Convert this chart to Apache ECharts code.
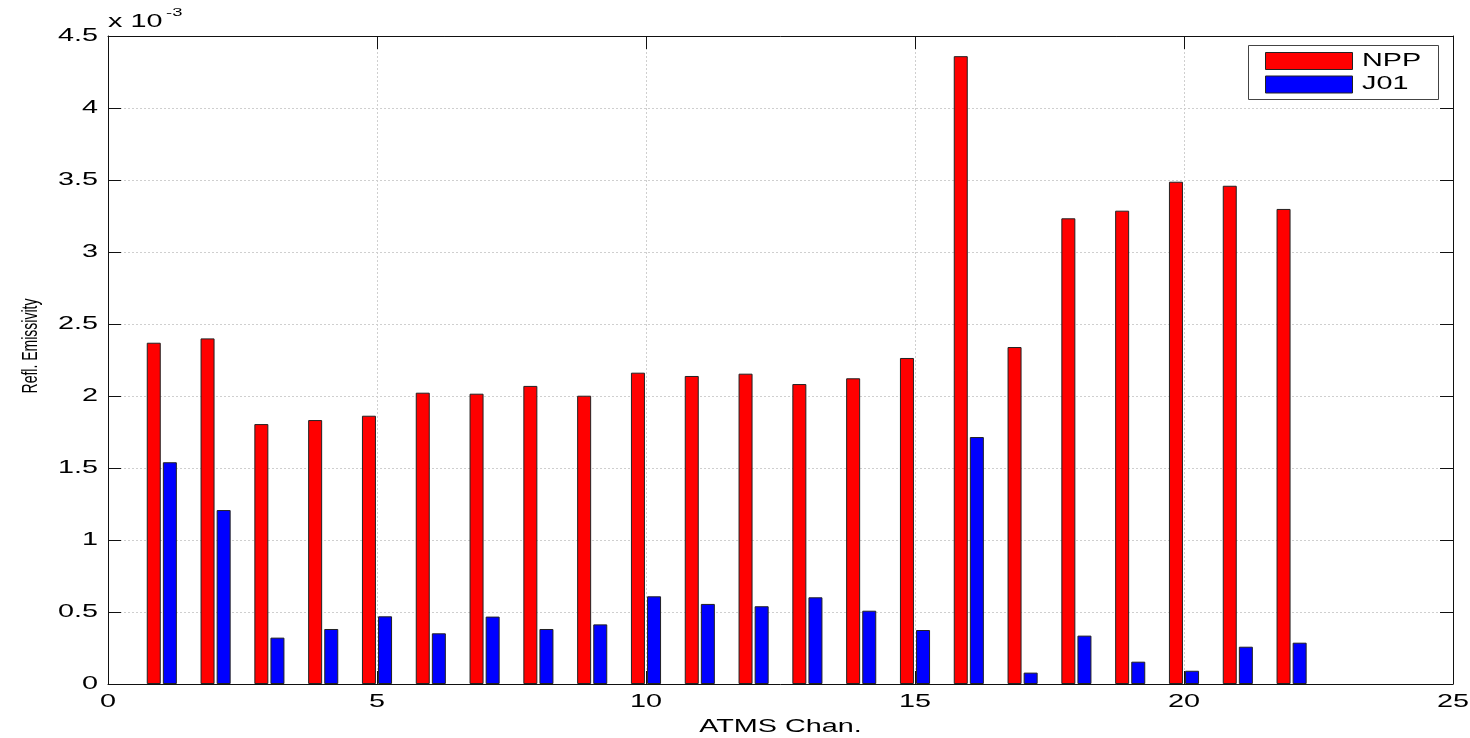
<!DOCTYPE html>
<html>
<head>
<meta charset="utf-8">
<script src="https://cdn.jsdelivr.net/npm/echarts@6/dist/echarts.min.js"></script>
<style>
html,body{margin:0;padding:0;background:#fff;}
#chart{width:1470px;height:738px;}
</style>
</head>
<body>
<div id="chart"></div>
<script>
// values in units of 1e-3
const channels = [1,2,3,4,5,6,7,8,9,10,11,12,13,14,15,16,17,18,19,20,21,22];
const nppValues = [2.37,2.40,1.805,1.833,1.863,2.023,2.016,2.07,2.002,2.162,2.139,2.155,2.083,2.123,2.264,4.36,2.34,3.234,3.287,3.488,3.46,3.299];
const j01Values = [1.54,1.208,0.322,0.382,0.47,0.352,0.468,0.382,0.414,0.609,0.556,0.54,0.602,0.509,0.375,1.715,0.079,0.336,0.155,0.092,0.259,0.287];
const seriesNames = ['NPP','J01'];
const seriesColors = ['#ff0000','#0000ff'];
const xTickLabels = ['0','5','10','15','20','25'];
const yTickLabels = ['0','0.5','1','1.5','2','2.5','3','3.5','4','4.5'];
const xTitle = 'ATMS Chan.';
const yTitle = 'Refl. Emissivity';

const font = 'Liberation Sans, Arial, Helvetica, sans-serif';
const SX = 1.6; // horizontal stretch of text in the reference
const chart = echarts.init(document.getElementById('chart'));
const axisLine = {show:true, onZero:false, lineStyle:{color:'#111', width:1}};
const tick = {show:true, inside:true, length:13, lineStyle:{color:'#111'}};
const grid = {show:true, lineStyle:{color:'#cfcfcf', type:[2,2], width:1}};
const xr = {min:0, max:25, interval:5};
const yr = {min:0, max:4.5, interval:0.5};

chart.setOption({
  animation:false,
  backgroundColor:'#fff',
  grid:{left:108, right:17, top:36, bottom:54},
  xAxis:[
    Object.assign({type:'value', axisLine:axisLine, axisTick:tick, splitLine:grid, axisLabel:{show:false}}, xr),
    Object.assign({type:'value', position:'top', axisLine:axisLine, axisTick:tick, splitLine:{show:false}, axisLabel:{show:false}}, xr)
  ],
  yAxis:[
    Object.assign({type:'value', axisLine:axisLine, axisTick:tick, splitLine:grid, axisLabel:{show:false}}, yr),
    Object.assign({type:'value', position:'right', axisLine:axisLine, axisTick:tick, splitLine:{show:false}, axisLabel:{show:false}}, yr)
  ],
  series:seriesNames.map((name, k) => ({
    name:name, type:'bar', xAxisIndex:0, yAxisIndex:0, barWidth:14, barGap:'15%',
    data:channels.map((c,i)=>[c,(k===0?nppValues:j01Values)[i]]),
    itemStyle:{color:seriesColors[k], borderColor:'#222', borderWidth:1}
  }))
});

const txt = (x, y, text, size, align, extra) => Object.assign({
  type:'text', x:x, y:y, scaleX:SX, silent:true,
  style:{text:text, fontSize:size, fontFamily:font, fill:'#000', textAlign:align, textVerticalAlign:'middle'}
}, extra || {});

const els = [];
xTickLabels.forEach(t => {
  const px = chart.convertToPixel({xAxisIndex:0}, Number(t));
  els.push(txt(px, 702, t, 18, 'center'));
});
yTickLabels.forEach(t => {
  const py = chart.convertToPixel({yAxisIndex:0}, Number(t));
  els.push(txt(98, py, t, 18, 'right'));
});
const x0 = chart.convertToPixel({xAxisIndex:0}, 0);
const x1 = chart.convertToPixel({xAxisIndex:0}, 25);
els.push(txt((x0+x1)/2, 727, xTitle, 18, 'center'));
// exponent
els.push(txt(108, 22, 'x 10', 18, 'left'));
els.push(txt(166, 13, '-3', 11.5, 'left'));
// y title (rotated)
els.push({type:'text', x:31, y:346, rotation:Math.PI/2, scaleX:1, scaleY:SX, silent:true,
  style:{text:yTitle, fontSize:14, fontFamily:font, fill:'#000', textAlign:'center', textVerticalAlign:'middle'}});
// legend box
els.push({type:'rect', shape:{x:1248.5, y:45.5, width:190, height:54}, style:{fill:'#fff', stroke:'#444', lineWidth:1}});
seriesNames.forEach((n,k) => {
  const y = 52 + k*23.5;
  els.push({type:'rect', shape:{x:1265.5, y:y+0.5, width:87, height:17}, style:{fill:seriesColors[k], stroke:'#222', lineWidth:1}});
  els.push(txt(1362, y+9, n, 18, 'left'));
});
chart.setOption({graphic:{elements:els}});
</script>
</body>
</html>
